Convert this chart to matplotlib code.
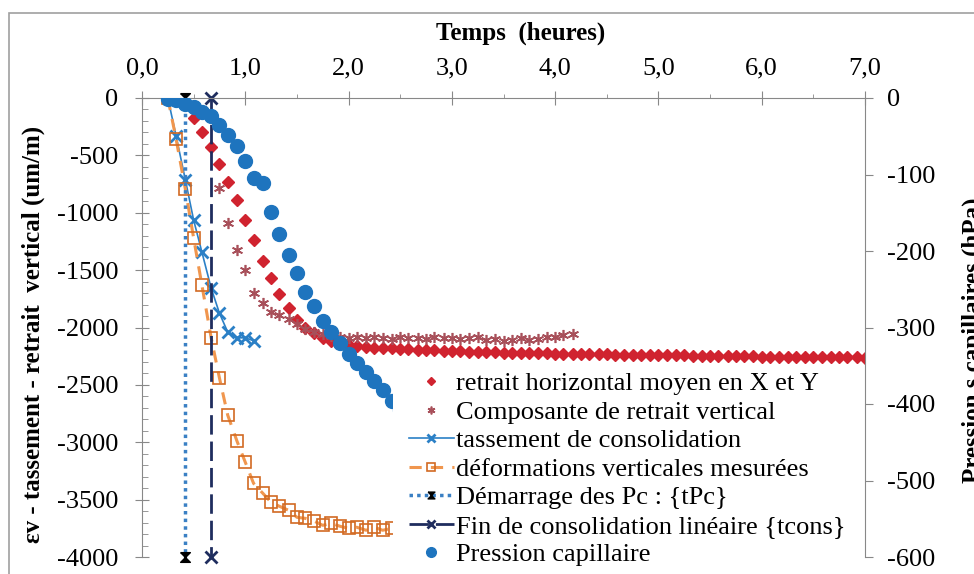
import matplotlib
matplotlib.use('Agg')
import matplotlib.pyplot as plt
from matplotlib.patches import Rectangle

plt.rcParams['font.family'] = ['Liberation Serif', 'DejaVu Serif']
plt.rcParams['font.size'] = 19
plt.rcParams['axes.unicode_minus'] = False

# --- data (temps en heures) ---
t_horiz = [0.25, 0.33, 0.42, 0.50, 0.58, 0.67, 0.75, 0.83, 0.92, 1.00, 1.08, 1.17,
           1.25, 1.33, 1.42, 1.50, 1.58, 1.67, 1.75, 1.83, 1.92, 2.00, 2.08, 2.17,
           2.25, 2.33, 2.42, 2.50, 2.58, 2.67, 2.75, 2.83, 2.92, 3.00, 3.08, 3.17,
           3.25, 3.33, 3.42, 3.50, 3.58, 3.67, 3.75, 3.83, 3.92, 4.00, 4.08, 4.17,
           4.25, 4.33, 4.42, 4.50, 4.58, 4.67, 4.75, 4.83, 4.92, 5.00, 5.08, 5.17,
           5.25, 5.33, 5.42, 5.50, 5.58, 5.67, 5.75, 5.83, 5.92, 6.00, 6.08, 6.17,
           6.25, 6.33, 6.42, 6.50, 6.58, 6.67, 6.75, 6.83, 6.92, 7.00]
retrait_horiz = [0, -15, -65, -172, -294, -425, -573, -730, -887, -1065, -1237, -1420,
                 -1568, -1708, -1830, -1935, -2004, -2048, -2092, -2118, -2135, -2150, -2160, -2168,
                 -2175, -2178, -2183, -2188, -2190, -2195, -2198, -2200, -2203, -2206, -2208, -2210,
                 -2212, -2214, -2216, -2218, -2219, -2221, -2222, -2224, -2225, -2227, -2228, -2230,
                 -2231, -2232, -2233, -2235, -2236, -2237, -2238, -2239, -2240, -2241, -2242, -2243,
                 -2244, -2245, -2246, -2247, -2248, -2249, -2250, -2251, -2252, -2253, -2254, -2255,
                 -2256, -2256, -2257, -2258, -2259, -2259, -2260, -2261, -2261, -2262]

t_vert = [0.75, 0.83, 0.92, 1.00, 1.08, 1.17, 1.25, 1.33, 1.42, 1.50, 1.58, 1.67,
          1.75, 1.83, 1.92, 2.00, 2.08, 2.17, 2.25, 2.33, 2.42, 2.50, 2.58, 2.67,
          2.75, 2.83, 2.92, 3.00, 3.08, 3.17, 3.25, 3.33, 3.42, 3.50, 3.58, 3.67,
          3.75, 3.83, 3.92, 4.00, 4.08, 4.17]
retrait_vert = [-785, -1090, -1324, -1498, -1699, -1786, -1864, -1890, -1925, -1970, -2013, -2039,
                -2060, -2075, -2085, -2090, -2080, -2095, -2085, -2090, -2100, -2085, -2095, -2090,
                -2100, -2085, -2095, -2090, -2100, -2095, -2085, -2110, -2100, -2115, -2105, -2095,
                -2110, -2100, -2080, -2085, -2065, -2060]

t_tass = [0.25, 0.33, 0.42, 0.50, 0.58, 0.67, 0.75, 0.83, 0.92, 1.00, 1.08]
tassement = [0, -330, -714, -1064, -1343, -1658, -1876, -2040, -2090, -2090, -2115]

t_def = [0.25, 0.33, 0.42, 0.50, 0.58, 0.67, 0.75, 0.83, 0.92, 1.00, 1.08, 1.17,
         1.25, 1.33, 1.42, 1.50, 1.58, 1.67, 1.75, 1.83, 1.92, 2.00, 2.08, 2.17,
         2.25, 2.33, 2.42, 2.50]
deformations = [0, -357, -796, -1221, -1631, -2092, -2441, -2764, -2991, -3174, -3358, -3445,
                -3523, -3558, -3593, -3654, -3663, -3689, -3724, -3706, -3733, -3750, -3741, -3767,
                -3741, -3767, -3750, -3760]

t_pc_start = [0.42, 0.42]
t_cons_end = [0.67, 0.67]
vline_y = [0, -4000]

t_pc = [0.25, 0.33, 0.42, 0.50, 0.58, 0.67, 0.75, 0.83, 0.92, 1.00, 1.08, 1.17,
        1.25, 1.33, 1.42, 1.50, 1.58, 1.67, 1.75, 1.83, 1.92, 2.00, 2.08, 2.17,
        2.25, 2.33, 2.42, 2.50, 2.58]
pression = [-1, -3, -8, -12, -18, -24, -35, -48, -63, -83, -105, -111,
            -149, -178, -205, -229, -254, -272, -291, -306, -320, -335, -347, -358,
            -370, -382, -396, -408, -420]

x_ticks = [0, 1, 2, 3, 4, 5, 6, 7]
x_labels = ['0,0', '1,0', '2,0', '3,0', '4,0', '5,0', '6,0', '7,0']

# --- figure ---
W, H = 974, 574
fig = plt.figure(figsize=(W / 100, H / 100), dpi=100)
ax = fig.add_axes([142 / W, 1 - 557 / H, (865 - 142) / W, (557 - 98) / H])
ax2 = ax.twinx()

h1, = ax.plot(t_horiz, retrait_horiz, linestyle='none', marker='D', ms=6.5,
              color='#D0232F', label='retrait horizontal moyen en X et Y')
h2, = ax.plot(t_vert, retrait_vert, linestyle='none', marker=(6, 2, 0), ms=8, mew=1.2,
              color='#A8505A', label='Composante de retrait vertical')
h3, = ax.plot(t_tass, tassement, '-', marker='x', ms=8, mew=2, lw=1.2,
              color='#2B80C6', label='tassement de consolidation')
h4, = ax.plot(t_def, deformations, linestyle=(0, (4, 3)), lw=2.2, color='#F0964E',
              marker='s', ms=8, mfc='none', mec='#D26A22', mew=1.2,
              label='déformations verticales mesurées')
hourglass = [(-1, 1), (1, 1), (-1, -1), (1, -1), (-1, 1)]
h5, = ax.plot(t_pc_start, vline_y, linestyle=(0, (1, 1.2)), lw=2.5, color='#3A80C4',
              marker=hourglass, ms=7, mfc='black', mec='black', clip_on=False,
              label='Démarrage des Pc : {tPc}')
h6, = ax.plot(t_cons_end, vline_y, linestyle=(0, (7, 2.5)), lw=2, color='#1F2D5E',
              marker='x', ms=8, mew=2, clip_on=False,
              label='Fin de consolidation linéaire {tcons}')
h7, = ax2.plot(t_pc, pression, linestyle='none', marker='o', ms=10,
               color='#1E74BE', label='Pression capillaire')

# axes limits / ticks
ax.set_xlim(0, 7)
ax.set_ylim(-4000, 0)
ax2.set_ylim(-600, 0)

gray = '#888888'
ax.xaxis.tick_top()
ax.set_xticks(x_ticks)
ax.set_xticklabels(x_labels)
ax.set_xticks([0.5, 1.5, 2.5, 3.5, 4.5, 5.5, 6.5], minor=True)
ax.tick_params(axis='x', which='major', direction='inout', length=10, color=gray, pad=8)
ax.tick_params(axis='x', which='minor', direction='out', length=3, color=gray)
ax.set_yticks(range(-4000, 1, 500))
ax.set_yticks(range(-4000, 1, 100), minor=True)
ax.tick_params(axis='y', which='major', direction='inout', length=10, color=gray, pad=12)
ax.tick_params(axis='y', which='minor', direction='in', length=4, color=gray)
ax2.set_yticks(range(-600, 1, 100))
ax2.tick_params(axis='y', which='major', direction='out', length=6, color=gray, pad=10)

for s in ['bottom', 'right']:
    ax.spines[s].set_visible(False)
for s in ['bottom', 'top', 'left']:
    ax2.spines[s].set_visible(False)
ax.spines['left'].set_color(gray)
ax.spines['top'].set_color(gray)
ax2.spines['right'].set_color(gray)

# titles
fig.text(521 / W, 1 - 33 / H, 'Temps  (heures)', ha='center', va='center',
         fontweight='bold', fontsize=18)
fig.text(33 / W, 1 - 334 / H, 'εv - tassement - retrait  vertical (um/m)', rotation=90,
         ha='center', va='center', fontweight='bold', fontsize=18)
fig.text(962 / W, 1 - 340 / H, 'Pression s capillaires (hPa)', rotation=90,
         ha='left', va='center', fontweight='bold', fontsize=18)

# white legend area
ax2.add_patch(Rectangle((393 / W, 0), (850 - 393) / W, (574 - 367) / H,
                        transform=fig.transFigure, facecolor='white', edgecolor='none',
                        zorder=4, clip_on=False))
leg = ax2.legend(handles=[h1, h2, h3, h4, h5, h6, h7], loc='upper left',
                 bbox_to_anchor=(409 / W, 1 - 372 / H), bbox_transform=fig.transFigure,
                 frameon=False, borderpad=0, borderaxespad=0, numpoints=1, markerscale=0.7,
                 handlelength=1.7, handletextpad=0.1, labelspacing=0.19, fontsize=19)
leg.set_zorder(5)

# outer border
fig.add_artist(Rectangle((9 / W, -0.1), 1.2, 1 - 13 / H + 0.1, transform=fig.transFigure,
                         facecolor='none', edgecolor='#A0A0A0', lw=1.2))

fig.savefig('out.png', dpi=100)
